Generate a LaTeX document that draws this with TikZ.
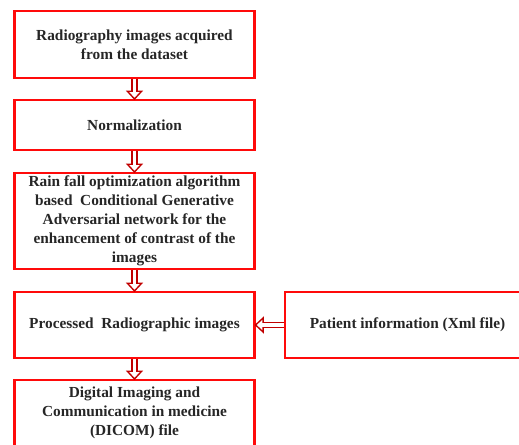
\documentclass[tikz,border=0pt]{standalone}
\usepackage{fontspec}
\setmainfont{Liberation Serif}
\usetikzlibrary{arrows.meta}

\definecolor{boxred}{HTML}{FF0A0A}
\definecolor{arrred}{HTML}{C00000}

\begin{document}
\begin{tikzpicture}[x=0.75pt,y=-0.75pt,
  stage/.style={draw=boxred, line width=2.2pt, fill=white, minimum width=243*0.75pt-2.2pt, align=center, font=\bfseries\fontsize{11.5}{14.2}\selectfont, text=black!85, inner sep=2pt, outer sep=0pt},
  flow/.style={draw=arrred, line width=5pt, -{Triangle[length=7pt,width=12.5pt]}, shorten <=1.1pt},
  flowin/.style={draw=white, line width=2.8pt, -{Triangle[length=4.2pt,width=7.5pt]}, shorten <=1.1pt, shorten >=1.7pt}]
\useasboundingbox (0,0) rectangle (519,445);

\node[stage, minimum height=67*0.75pt] (acq) at (134.5,44.5) {Radiography images acquired\\from the dataset};
\node[stage, minimum height=50*0.75pt] (norm) at (134.5,125) {Normalization};
\node[stage, minimum height=96*0.75pt] (rfo) at (134.5,221) {Rain fall optimization algorithm\\based \ Conditional Generative\\Adversarial network for the\\enhancement of contrast of the\\images};
\node[stage, minimum height=66*0.75pt] (proc) at (134.5,325) {Processed \ Radiographic images};
\node[stage, minimum height=66*0.75pt, minimum width=245*0.75pt] (pat) at (407.5,325) {Patient information (Xml file)};
\node[stage, minimum height=66*0.75pt] (dicom) at (134.5,413) {Digital Imaging and\\Communication in medicine\\(DICOM) file};

% hollow arrows: red body, white inside
\foreach \a/\b in {acq/norm, norm/rfo, rfo/proc, proc/dicom, pat/proc}{
  \draw[flow] (\a) -- (\b);
  \draw[flowin] (\a) -- (\b);
}
\end{tikzpicture}
\end{document}
